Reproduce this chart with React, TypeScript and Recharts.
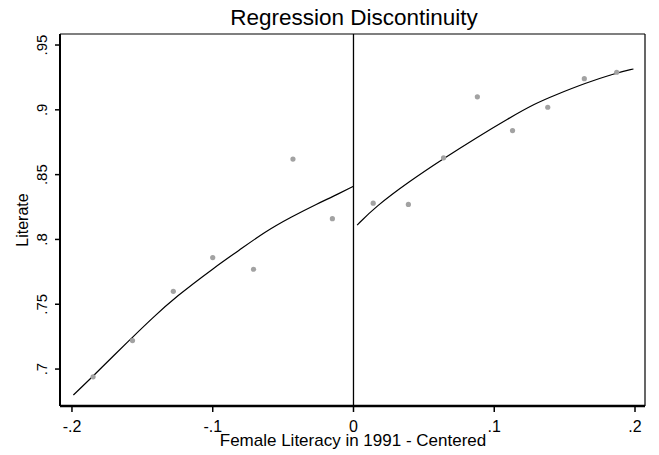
import React from "react";
import { ComposedChart, Scatter, Line, XAxis, YAxis, ReferenceLine, Label } from "recharts";

const W = 659;
const H = 455;
const FONT = "'Liberation Sans', Arial, sans-serif";

const xTicks = [-0.2, -0.1, 0, 0.1, 0.2];
const yTicks = [0.7, 0.75, 0.8, 0.85, 0.9, 0.95];
const xDomain = [-0.2085, 0.2071];
const yDomain = [0.6715, 0.9585];

// binned means (grey dots)
const binX = [-0.185, -0.157, -0.128, -0.1, -0.071, -0.043, -0.015, 0.014, 0.039, 0.064, 0.088, 0.113, 0.138, 0.164, 0.187];
const binY = [0.694, 0.722, 0.76, 0.786, 0.777, 0.862, 0.816, 0.828, 0.827, 0.863, 0.91, 0.884, 0.902, 0.924, 0.929];

// fitted curve, left of cutoff
const leftFitX = [-0.199, -0.1855, -0.17, -0.157, -0.143, -0.1265, -0.098, -0.082, -0.063, -0.044, -0.025, -0.015, 0];
const leftFitY = [0.68, 0.694, 0.7108, 0.7245, 0.7392, 0.7555, 0.779, 0.791, 0.8059, 0.8175, 0.8279, 0.8329, 0.841];

// fitted curve, right of cutoff
const rightFitX = [0.0026, 0.0156, 0.0393, 0.0641, 0.0865, 0.1102, 0.1291, 0.1433, 0.1645, 0.1858, 0.1989];
const rightFitY = [0.8111, 0.8252, 0.8445, 0.8625, 0.8779, 0.8934, 0.9049, 0.9114, 0.9205, 0.9282, 0.9315];

const zip = (xs: number[], ys: number[]) => xs.map((x, i) => ({ x, y: ys[i] }));
const bins = zip(binX, binY);
const leftFit = zip(leftFitX, leftFitY);
const rightFit = zip(rightFitX, rightFitY);

// stata style: drop leading zero
const fmt = (v: number) => (v === 0 ? "0" : (v < 0 ? "-" : "") + String(Math.abs(v)).replace(/^0/, ""));

const YTick: React.FC<any> = ({ x, y, payload }) => (
  <text
    x={x}
    y={y}
    transform={`rotate(-90 ${x} ${y})`}
    textAnchor="middle"
    fontSize={15}
    fontFamily={FONT}
    fill="#000"
  >
    {fmt(payload.value)}
  </text>
);

const XTick: React.FC<any> = ({ x, y, payload }) => (
  <text x={x} y={y} dy={18} textAnchor="middle" fontSize={16} fontFamily={FONT} fill="#000">
    {fmt(payload.value)}
  </text>
);

const Dot: React.FC<any> = ({ cx, cy }) => <circle cx={cx} cy={cy} r={2.6} fill="#a2a2a2" />;

export default function App() {
  return (
    <div style={{ position: "relative", width: W, height: H, background: "#fff" }}>
      <style>{`body{margin:0}`}</style>
      <ComposedChart width={W} height={H} margin={{ top: 34, right: 14, left: 0, bottom: 0 }}>
        <XAxis
          type="number"
          dataKey="x"
          domain={xDomain}
          ticks={xTicks}
          allowDataOverflow
          height={49}
          tick={<XTick />}
          tickSize={6}
          tickMargin={2}
          axisLine={{ stroke: "#000", strokeWidth: 2.5 }}
          tickLine={{ stroke: "#000", strokeWidth: 1.5 }}
        >
          <Label
            content={() => (
              <text x={353} y={446} textAnchor="middle" fontSize={17} fontFamily={FONT} fill="#000">
                Female Literacy in 1991 - Centered
              </text>
            )}
          />
        </XAxis>
        <YAxis
          type="number"
          dataKey="y"
          domain={yDomain}
          ticks={yTicks}
          allowDataOverflow
          width={60}
          tick={<YTick />}
          tickSize={5}
          tickMargin={8}
          axisLine={{ stroke: "#000", strokeWidth: 2 }}
          tickLine={{ stroke: "#000", strokeWidth: 1.5 }}
        >
          <Label
            content={() => (
              <text
                x={28}
                y={220}
                transform="rotate(-90 28 220)"
                textAnchor="middle"
                fontSize={16}
                fontFamily={FONT}
                fill="#000"
              >
                Literate
              </text>
            )}
          />
        </YAxis>
        <ReferenceLine y={yDomain[1]} stroke="#000" strokeWidth={1.2} />
        <ReferenceLine x={xDomain[1]} stroke="#000" strokeWidth={1.2} />
        <ReferenceLine x={0} stroke="#000" strokeWidth={1.3} />
        <Scatter data={bins} dataKey="y" shape={<Dot />} isAnimationActive={false} />
        <Line data={leftFit} dataKey="y" type="basis" dot={false} stroke="#000" strokeWidth={1.2} isAnimationActive={false} />
        <Line data={rightFit} dataKey="y" type="basis" dot={false} stroke="#000" strokeWidth={1.2} isAnimationActive={false} />
      </ComposedChart>
      <svg width={W} height={32} style={{ position: "absolute", left: 0, top: 0 }}>
        <text x={354} y={25} textAnchor="middle" fontSize={22.5} fontFamily={FONT} fill="#000">
          Regression Discontinuity
        </text>
      </svg>
    </div>
  );
}
